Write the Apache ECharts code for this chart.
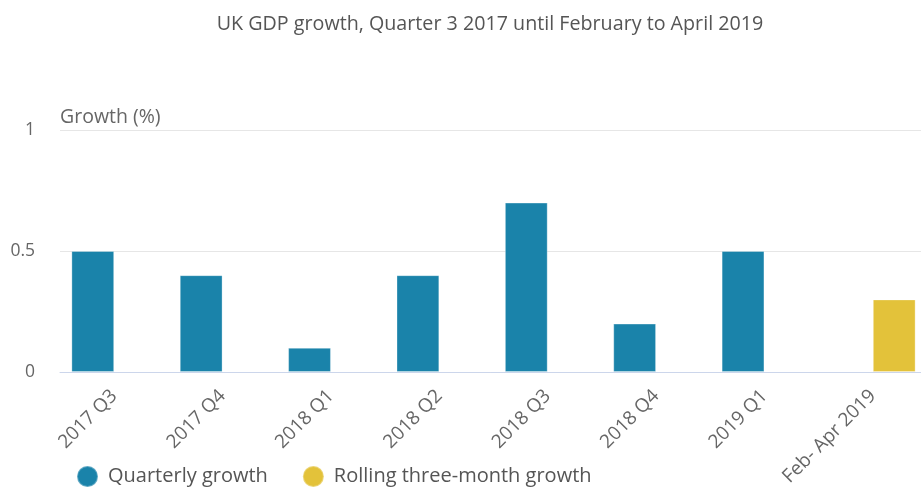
<!DOCTYPE html>
<html>
<head>
<meta charset="utf-8">
<style>
  html, body { margin: 0; padding: 0; background: #fff; }
  #chart { width: 921px; height: 488px; }
</style>
<script src="https://cdn.jsdelivr.net/npm/echarts@6/dist/echarts.min.js"></script>
</head>
<body>
<div id="chart"></div>
<script>
// Periods along the x axis
const categories = ['2017 Q3', '2017 Q4', '2018 Q1', '2018 Q2', '2018 Q3', '2018 Q4', '2019 Q1', 'Feb- Apr 2019'];
// Quarter-on-quarter GDP growth (%); no quarterly value for the rolling period
const quarterlyGrowth = [0.5, 0.4, 0.1, 0.4, 0.7, 0.2, 0.5, '-'];
// Rolling three-month growth (%); only the last period has a value
const rollingGrowth = ['-', '-', '-', '-', '-', '-', '-', 0.3];
const seriesNames = ['Quarterly growth', 'Rolling three-month growth'];

const FONT = '"Open Sans", sans-serif';
const chart = echarts.init(document.getElementById('chart'));

chart.setOption({
  animation: false,
  textStyle: { fontFamily: FONT },
  title: {
    text: 'UK GDP growth, Quarter 3 2017 until February to April 2019',
    left: 485,
    top: 9,
    textAlign: 'center',
    textStyle: { fontFamily: FONT, fontSize: 19.7, fontWeight: 'normal', color: '#555' }
  },
  legend: {
    data: seriesNames,
    left: 71,
    top: 460,
    icon: 'circle',
    itemWidth: 21,
    itemHeight: 21,
    itemGap: 34,
    textStyle: { fontFamily: FONT, fontSize: 20, color: '#555', padding: [0, 0, 0, 5] }
  },
  // plot area runs slightly past the right edge of the canvas
  grid: { left: 60, width: 867, top: 130, bottom: 116, outerBoundsMode: 'none', containLabel: false },
  xAxis: {
    type: 'category',
    data: categories,
    axisLine: { lineStyle: { color: '#ccd6eb', width: 1 } },
    axisTick: { length: 15, lineStyle: { color: '#ccd6eb', width: 1.5 } },
    axisLabel: { rotate: 45, margin: 21, fontSize: 19, color: '#666', fontFamily: FONT }
  },
  yAxis: {
    type: 'value',
    min: 0,
    max: 1,
    interval: 0.5,
    name: 'Growth (%)',
    nameLocation: 'end',
    nameGap: 13,
    nameTextStyle: { align: 'left', verticalAlign: 'middle', fontSize: 19.5, color: '#666', fontFamily: FONT },
    axisLine: { show: false },
    axisTick: { show: false },
    axisLabel: { margin: 25, fontSize: 17.5, color: '#666', fontFamily: FONT },
    splitLine: { lineStyle: { color: '#e6e6e6', width: 1 } }
  },
  series: [
    {
      name: seriesNames[0],
      type: 'bar',
      data: quarterlyGrowth,
      barGap: '0%',
      barCategoryGap: '21%',
      itemStyle: { color: '#1a83aa', borderColor: 'rgba(255,255,255,0.3)', borderWidth: 1 }
    },
    {
      name: seriesNames[1],
      type: 'bar',
      data: rollingGrowth,
      barGap: '0%',
      barCategoryGap: '21%',
      itemStyle: { color: '#e3c23a', borderColor: 'rgba(255,255,255,0.3)', borderWidth: 1 }
    }
  ]
});
</script>
</body>
</html>
